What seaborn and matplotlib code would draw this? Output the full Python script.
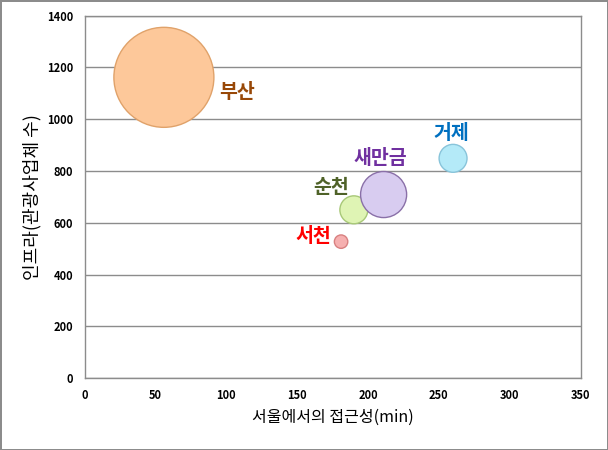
import matplotlib
matplotlib.use("Agg")
import matplotlib.pyplot as plt
import seaborn as sns
import pandas as pd

regions = ["부산", "거제", "서천", "순천", "새만금"]
access_min = [56, 260, 181, 190, 211]
infra = [1162, 849, 527, 650, 709]
bubble = [1000, 78, 18, 78, 212]

fill_colors = ["#FDC89A", "#B4EAF8", "#F6B0B0", "#DFF4B4", "#D8CCF0"]
edge_colors = ["#E0A26A", "#88C4DA", "#D88080", "#A8C878", "#8A70A8"]
label_colors = ["#984807", "#0070C0", "#FF0000", "#4F6228", "#7030A0"]
label_offsets = [(53, -11), (-1, 18), (-20, 3.5), (-16, 16), (-2, 26)]

x_ticks = [0, 50, 100, 150, 200, 250, 300, 350]
y_ticks = [0, 200, 400, 600, 800, 1000, 1200, 1400]

df = pd.DataFrame({"region": regions, "x": access_min, "y": infra, "size": bubble})

sns.set_theme(style="white")
plt.rcParams['font.family'] = ['Noto Sans CJK KR', 'DejaVu Sans']

fig = plt.figure(figsize=(6.08, 4.5), dpi=100)
fig.patch.set_edgecolor("#8C8C8C")
fig.patch.set_linewidth(2)
ax = fig.add_axes([0.139, 0.16, 0.816, 0.805])

sns.scatterplot(data=df, x="x", y="y", hue="region", size="size",
                sizes=(0, 5184), size_norm=(0, 1000),
                palette=dict(zip(regions, fill_colors)),
                hue_order=regions, legend=False, ax=ax,
                edgecolor=edge_colors, linewidth=1.0, zorder=3)

for r, x, y, c, (dx, dy) in zip(regions, access_min, infra, label_colors, label_offsets):
    ax.annotate(r, (x, y), xytext=(dx, dy), textcoords="offset points",
                color=c, fontsize=14, fontweight="bold",
                ha="center", va="center", zorder=4)

ax.set_xlim(0, 350)
ax.set_ylim(0, 1400)
ax.set_xticks(x_ticks)
ax.set_yticks(y_ticks)
ax.tick_params(axis="both", labelsize=8, length=0, pad=8, labelcolor="black")
for lbl in ax.get_xticklabels() + ax.get_yticklabels():
    lbl.set_fontweight("bold")
ax.yaxis.grid(True, color="#8C8C8C", linewidth=1)
ax.xaxis.grid(False)
ax.set_axisbelow(True)
for s in ax.spines.values():
    s.set_color("#8C8C8C")
    s.set_linewidth(1)

ax.set_xlabel("서울에서의 접근성(min)", fontsize=11.5, labelpad=5, color="black")
ax.set_ylabel("인프라(관광사업체 수)", fontsize=13, labelpad=4, color="black")

fig.savefig("out.png", dpi=100, edgecolor=fig.get_edgecolor())
